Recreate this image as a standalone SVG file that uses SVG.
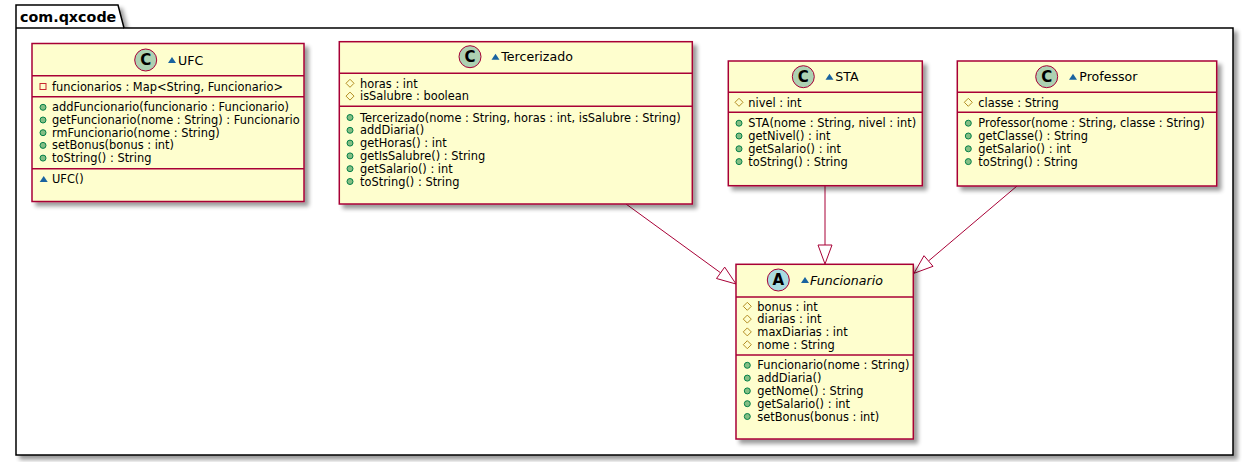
<svg xmlns="http://www.w3.org/2000/svg" width="1249" height="462" viewBox="0 0 1249 462">
<defs>
<filter id="sh" x="-10%" y="-10%" width="130%" height="130%">
<feGaussianBlur in="SourceAlpha" stdDeviation="2"/>
<feOffset dx="4" dy="4" result="b"/>
<feComponentTransfer><feFuncA type="linear" slope="0.4"/></feComponentTransfer>
<feMerge><feMergeNode/><feMergeNode in="SourceGraphic"/></feMerge>
</filter>
<g id="pub"><circle r="3" fill="#84BE84" stroke="#038048" stroke-width="1"/></g>
<g id="prot"><polygon points="0,-4 4,0 0,4 -4,0" fill="none" stroke="#B38D22" stroke-width="1"/></g>
<g id="priv"><rect x="-3" y="-3" width="6" height="6" fill="none" stroke="#C82930" stroke-width="1"/></g>
<g id="pkg"><polygon points="-4,3 4,3 0,-3" fill="#1963A0"/></g>
</defs>
<style>
.box{fill:#FEFECE;stroke:#A80036;stroke-width:1.5}
.sep{stroke:#A80036;stroke-width:1.5}
.t{font-family:"DejaVu Sans",Verdana,sans-serif;font-size:11.4px;fill:#000}
.n{font-family:"DejaVu Sans",Verdana,sans-serif;font-size:12.6px;fill:#000}
.ci{stroke:#A80036;stroke-width:1}
.cl{font-family:"DejaVu Sans",sans-serif;font-size:15px;font-weight:bold;fill:#000;text-anchor:middle}
.edge{stroke:#A80036;stroke-width:1;fill:none}
.head{stroke:#A80036;stroke-width:1;fill:#FFFFFF}
</style>
<g id="package">
<path d="M16,28 L16,5 L118,5 L124,28 L1233,28 L1233,455 L16,455 Z" fill="#FFFFFF" stroke="#000" stroke-width="1.5" filter="url(#sh)"/>
<line x1="16" y1="28" x2="124" y2="28" stroke="#000" stroke-width="1.5"/>
<text x="20" y="22" font-family="DejaVu Sans,sans-serif" font-size="14.3" font-weight="bold">com.qxcode</text>
</g>
<g id="connectors">
<path class="edge" d="M626,204 L720.6,272.8"/>
<polygon class="head" points="736,284 716.5,278.5 724.7,267.1"/>
<path class="edge" d="M825,186 L825,245"/>
<polygon class="head" points="825,264 818,245 832,245"/>
<path class="edge" d="M1017,186 L928.5,261"/>
<polygon class="head" points="914,273.3 933,266.3 924,255.7"/>
</g>
<g id="UFC">
<rect class="box" x="32" y="43.5" width="272" height="158" filter="url(#sh)"/>
<circle class="ci" cx="145.7" cy="60" r="11" fill="#ADD1B2"/>
<text class="cl" x="145.7" y="65.3">C</text>
<use href="#pkg" x="172" y="60"/>
<text class="n" x="178" y="64.5">UFC</text>
<line class="sep" x1="32" y1="75.7" x2="304" y2="75.7"/>
<use href="#priv" x="43" y="86.5"/>
<text class="t" x="52" y="90.5">funcionarios : Map&lt;String, Funcionario&gt;</text>
<line class="sep" x1="32" y1="96.7" x2="304" y2="96.7"/>
<use href="#pub" x="43" y="107.3"/>
<text class="t" x="52" y="111.3">addFuncionario(funcionario : Funcionario)</text>
<use href="#pub" x="43" y="120"/>
<text class="t" x="52" y="124">getFuncionario(nome : String) : Funcionario</text>
<use href="#pub" x="43" y="132.7"/>
<text class="t" x="52" y="136.7">rmFuncionario(nome : String)</text>
<use href="#pub" x="43" y="145.4"/>
<text class="t" x="52" y="149.4">setBonus(bonus : int)</text>
<use href="#pub" x="43" y="158.1"/>
<text class="t" x="52" y="162.1">toString() : String</text>
<line class="sep" x1="32" y1="168.7" x2="304" y2="168.7"/>
<use href="#pkg" x="43.7" y="179"/>
<text class="t" x="52" y="183">UFC()</text>
</g>
<g id="Tercerizado">
<rect class="box" x="339.3" y="41.7" width="353" height="162.3" filter="url(#sh)"/>
<circle class="ci" cx="470" cy="56.7" r="11" fill="#ADD1B2"/>
<text class="cl" x="470" y="62">C</text>
<use href="#pkg" x="495.5" y="56.7"/>
<text class="n" x="501.3" y="61">Tercerizado</text>
<line class="sep" x1="339.3" y1="73.3" x2="692.3" y2="73.3"/>
<use href="#prot" x="350" y="83.3"/>
<text class="t" x="360" y="87.5">horas : int</text>
<use href="#prot" x="350" y="96.1"/>
<text class="t" x="360" y="100.3">isSalubre : boolean</text>
<line class="sep" x1="339.3" y1="106.3" x2="692.3" y2="106.3"/>
<use href="#pub" x="350" y="117.5"/>
<text class="t" x="360" y="121.5">Tercerizado(nome : String, horas : int, isSalubre : String)</text>
<use href="#pub" x="350" y="130.3"/>
<text class="t" x="360" y="134.3">addDiaria()</text>
<use href="#pub" x="350" y="143.1"/>
<text class="t" x="360" y="147.1">getHoras() : int</text>
<use href="#pub" x="350" y="155.9"/>
<text class="t" x="360" y="159.9">getIsSalubre() : String</text>
<use href="#pub" x="350" y="168.7"/>
<text class="t" x="360" y="172.7">getSalario() : int</text>
<use href="#pub" x="350" y="181.5"/>
<text class="t" x="360" y="185.5">toString() : String</text>
</g>
<g id="STA">
<rect class="box" x="728.3" y="61" width="194" height="124.7" filter="url(#sh)"/>
<circle class="ci" cx="803.3" cy="76.7" r="11" fill="#ADD1B2"/>
<text class="cl" x="803.3" y="82">C</text>
<use href="#pkg" x="829.5" y="76.7"/>
<text class="n" x="835.3" y="81">STA</text>
<line class="sep" x1="728.3" y1="92.3" x2="922.3" y2="92.3"/>
<use href="#prot" x="739" y="102.3"/>
<text class="t" x="748.3" y="106.5">nivel : int</text>
<line class="sep" x1="728.3" y1="112.3" x2="922.3" y2="112.3"/>
<use href="#pub" x="739" y="123.2"/>
<text class="t" x="748.3" y="127.2">STA(nome : String, nivel : int)</text>
<use href="#pub" x="739" y="136"/>
<text class="t" x="748.3" y="140">getNivel() : int</text>
<use href="#pub" x="739" y="148.8"/>
<text class="t" x="748.3" y="152.8">getSalario() : int</text>
<use href="#pub" x="739" y="161.6"/>
<text class="t" x="748.3" y="165.6">toString() : String</text>
</g>
<g id="Professor">
<rect class="box" x="957.3" y="61" width="259.4" height="125" filter="url(#sh)"/>
<circle class="ci" cx="1046.7" cy="76.7" r="11" fill="#ADD1B2"/>
<text class="cl" x="1046.7" y="82">C</text>
<use href="#pkg" x="1073" y="76.7"/>
<text class="n" x="1079.3" y="81">Professor</text>
<line class="sep" x1="957.3" y1="92.3" x2="1216.7" y2="92.3"/>
<use href="#prot" x="968.3" y="102.3"/>
<text class="t" x="978.3" y="106.5">classe : String</text>
<line class="sep" x1="957.3" y1="112.3" x2="1216.7" y2="112.3"/>
<use href="#pub" x="968.3" y="123.2"/>
<text class="t" x="978.3" y="127.2">Professor(nome : String, classe : String)</text>
<use href="#pub" x="968.3" y="136"/>
<text class="t" x="978.3" y="140">getClasse() : String</text>
<use href="#pub" x="968.3" y="148.8"/>
<text class="t" x="978.3" y="152.8">getSalario() : int</text>
<use href="#pub" x="968.3" y="161.6"/>
<text class="t" x="978.3" y="165.6">toString() : String</text>
</g>
<g id="Funcionario">
<rect class="box" x="736" y="264.3" width="177.3" height="174.7" filter="url(#sh)"/>
<circle class="ci" cx="778.3" cy="280" r="11" fill="#A9DCDF"/>
<text class="cl" x="778.3" y="285.3">A</text>
<use href="#pkg" x="805" y="280"/>
<text class="n" x="810" y="284.5" font-style="italic">Funcionario</text>
<line class="sep" x1="736" y1="297" x2="913.3" y2="297"/>
<use href="#prot" x="747.3" y="306.3"/>
<text class="t" x="757.3" y="310.5">bonus : int</text>
<use href="#prot" x="747.3" y="319.1"/>
<text class="t" x="757.3" y="323.3">diarias : int</text>
<use href="#prot" x="747.3" y="331.9"/>
<text class="t" x="757.3" y="336.1">maxDiarias : int</text>
<use href="#prot" x="747.3" y="344.7"/>
<text class="t" x="757.3" y="348.9">nome : String</text>
<line class="sep" x1="736" y1="355" x2="913.3" y2="355"/>
<use href="#pub" x="747.3" y="365.3"/>
<text class="t" x="757.3" y="369.3">Funcionario(nome : String)</text>
<use href="#pub" x="747.3" y="378.1"/>
<text class="t" x="757.3" y="382.1">addDiaria()</text>
<use href="#pub" x="747.3" y="390.9"/>
<text class="t" x="757.3" y="394.9">getNome() : String</text>
<use href="#pub" x="747.3" y="403.7"/>
<text class="t" x="757.3" y="407.7">getSalario() : int</text>
<use href="#pub" x="747.3" y="416.5"/>
<text class="t" x="757.3" y="420.5">setBonus(bonus : int)</text>
</g>
</svg>
